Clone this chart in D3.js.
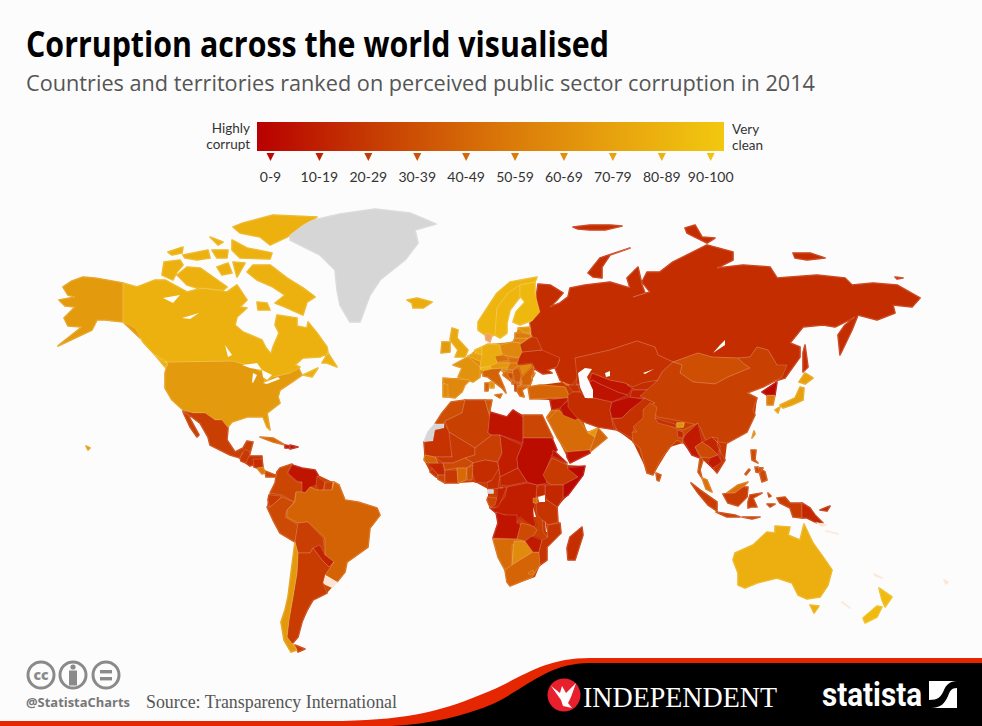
<!DOCTYPE html>
<html>
<head>
<meta charset="utf-8">
<script src="https://cdn.jsdelivr.net/npm/d3@7"></script>
<style>
  html, body { margin: 0; background: #fcfcfc; }
  svg { display: block; }
</style>
</head>
<body>
<div id="chart"></div>
<script>
const legendBands = ["0-9", "10-19", "20-29", "30-39", "40-49", "50-59", "60-69", "70-79", "80-89", "90-100"];
const scoreStops = [0, 19, 27, 36, 43, 50, 60, 74, 80, 92, 100];
const scoreColors = ["#b50000", "#bf1500", "#c42d00", "#c94003", "#d46306", "#d86c08", "#e0870e", "#e39a0c", "#ecaf0f", "#f0bb0f", "#f2c80f"];
const rampStops = [0, 25, 50, 75, 100];
const rampColors = ["#b80000", "#c63c02", "#d87208", "#e6a00e", "#f2c80f"];

// CPI 2014 score per territory, same order as countryShapes (painted in this order)
const countryNames = ["Russia","Greenland","USA","Canada","Mexico","Guatemala","Honduras","Nicaragua","Costa Rica","Panama","Cuba","Haiti","Dominican Rep.","Colombia","Venezuela","Guyana","Suriname","French Guiana","Ecuador","Peru","Brazil","Bolivia","Paraguay","Uruguay","Argentina","Chile",
  "Morocco","W. Sahara","Mauritania","Algeria","Tunisia","Libya","Egypt","Mali","Niger","Chad","Sudan","Eritrea","Ethiopia","Somalia","Kenya","Uganda","Tanzania","DR Congo","Congo","Gabon","Cameroon","CAR","Nigeria","Senegal","Guinea","Sierra Leone","Liberia","Ivory Coast","Burkina Faso","Ghana","Benin","Angola","Namibia","Botswana","South Africa","Zambia","Zimbabwe","Mozambique","Malawi","Rwanda","Madagascar","Lesotho","Eq. Guinea",
  "Saudi Arabia","UAE","Oman","Yemen","Jordan","Iraq","Syria","Turkey","Georgia","Azerbaijan","Iran","Afghanistan","Pakistan","Turkmenistan","Uzbekistan","Kyrgyzstan","Tajikistan","Kazakhstan","Mongolia","China","Taiwan","India","Nepal","Bhutan","Bangladesh","Myanmar","Sri Lanka","Thailand","Laos","Vietnam","Cambodia","Malaysia","Indonesia","PNG","Philippines","South Korea","North Korea","Japan","Australia","New Zealand","Pacific islands",
  "Iceland","UK","Ireland","Norway","Sweden","Finland","Denmark","France","Netherlands","Belgium","Germany","Switzerland","Italy","Spain","Portugal","Austria","Poland","Czech Rep.","Slovakia","Hungary","Slovenia","Croatia","Bosnia","Serbia","Montenegro","Albania","Macedonia","Greece","Bulgaria","Romania","Moldova","Ukraine","Belarus","Lithuania","Latvia","Estonia"];
const countryScores = [27,null,74,81,35,32,29,28,54,37,46,19,19,37,19,30,36,69,33,38,43,35,24,"pale",34,73,
  39,null,30,36,40,18,37,32,35,22,11,18,33,8,25,26,31,22,23,37,27,24,27,43,25,31,37,32,38,48,39,19,49,63,44,38,21,31,33,49,28,49,null,
  49,70,45,19,49,16,20,45,52,29,27,12,29,17,18,27,23,29,39,36,61,38,29,65,25,21,38,38,25,31,21,52,34,25,38,55,8,76,80,91,"pale",
  79,78,74,86,87,89,"tint",69,83,76,79,86,43,60,63,72,61,51,50,54,58,48,39,41,42,33,45,43,43,43,35,26,31,58,55,69];

// land masses painted first so no sea shows between neighbouring outlines
const landFills = ["#c94003", "#cc4a04", "#c83a02", "#ce5d08", "#e08a10"];
const landShapes = [
  [-9.5,49,-2.5,50,11,50,10,44,18.5,41.5,21.5,45,26.5,42.5,36,42.5,41.5,31,41,25,48.5,17.5,57.5,17,56.5,12.5,49,2.5,43.5,-3.5,44,-11,45,-11.5,45.5,-16.5,38.5,-23.5,38.5,-30,35,-32.5,32.5,-38.5,20,-43,18.5,-41,17.5,-35,14,-28.5,11.5,-19.5,14,-11.5,13,-6,9,0,9,5.5,2.5,9,-6,8.5,-12.5,8.5,-16,10.5,-20,14,-23,20,-23,29,-21,34,-17.5,38,-14,43.5],
  [-97,14,-89,18,-76,12.5,-65.5,7.5,-62.5,0,-56,-1,-46.5,-4,-45,-7.5,-50,-14,-51,-23.5,-61.5,-31,-62.5,-36,-66.5,-41,-71.5,-46.5,-78.5,-50,-84,-61,-86,-68.5,-90.5,-65,-91,-48.5,-89.5,-36.5,-87.5,-21,-95,-16.5,-101.5,-3.5,-101,0,-100,3.5,-97,8.5],
  [45,71,52.5,71,115,80,158.5,67.5,156,61.5,146.5,56.5,138.5,53.5,143.5,51,142.5,42.5,138.5,34,128.5,28.5,127.5,20,123.5,13.5,116.5,20,111,22.5,106.5,28.5,100,26.5,91.5,12.5,89,13.5,81.5,29,73.5,35,64,36.5,58.5,38.5,53.5,41,45,46.5,40,50,30,50.5,29,56.5,35,57.5,46.5,59],
  [38.5,41,41,45,50,51.5,56,41.5,58.5,34,64,36,68.5,31,60,24,50,18.5,48.5,21.5,43.5,31.5],
  [-13.5,61,-6,61,-4,66,-8.5,67.5,-1,71.5,2.5,75,9,78,21.5,79,24,86,30,86.5,30,81.5,35,75,45,71,43.5,66.5,38.5,65,32.5,65.5,31.5,61.5,30.5,57.5,26,55,27.5,51.5,25,52,21,59,16.5,62.5,16,65.5,11,65.5,6.5,64.5,5,61.5,0,60,-2.5,57.5,-7.5,51,-13.5,51.5]
];

// outlines on a flat map grid (origin: equator / prime meridian)
// each territory is a list of rings, each ring is x,y,x,y,...
const countryShapes = [
  // Russia
  [[34,108,40,107.5,46.5,103.5,43.5,100,40,96.5,45,98.5,49,101.5,50,106,57.5,107.5,70,109,80,106,78.5,111,84,116.5,86,107.5,87.5,103.5,81.5,101.5,90,104,86,109,88.5,114,95,114,101.5,119,118.5,127.5,131.5,124,131.5,120,123.5,116,136.5,117.5,150,116.5,153.5,111,173.5,112.5,187.5,111,191,107.5,201.5,108.5,213.5,107.5,225,101,221,96.5,211.5,97.5,212.5,93.5,203.5,90,194,92.5,191,85,185,72.5,184,82.5,187.5,87.5,192.5,91.5,182.5,86.5,176.5,87.5,166.5,86.5,160,78.5,165,76.5,165,71.5,157.5,61,152.5,59.5,153.5,67.5,149,75,143.5,76.5,140,71.5,134,71,121,71.5,114,73.5,101.5,69,94,72.5,92.5,76.5,83.5,79.5,70,75,52.5,71,53.5,66.5,55,65,54,61.5,50,56.5,45,60,42.5,66,45,70,35,75,33.5,78.5,31,81.5,30,88.5,31.5,90],
   [59,113.5,65,121,80,126,70,122.5,66,116.5,66,111,61.5,111.5],
   [107.5,136,112.5,137.5,116,131.5,122.5,131,118.5,128.5,108.5,133.5],
   [161.5,123.5,170,123.5,177.5,121,168.5,120,162.5,121],
   [167.5,77.5,169,66.5,166.5,64,166.5,73.5],
   [212.5,111.5,216.5,111,213.5,110.5],
   [51.5,136.5,60,137.5,70,137.5,76,137,67.5,135,60,135,54,135.5]],
  // Greenland
  [[-90,134,-82.5,139,-65,143,-47.5,145.5,-30,143.5,-17,138,-27.5,135,-26,128.5,-32.5,120,-37.5,116,-45,110,-50,102.5,-55,89,-60,89,-65,97.5,-66.5,105,-67.5,115,-75,122.5,-85,127.5,-90,130]],
  // USA (lower 48, Alaska, Hawaii)
  [[-151,69,-118.5,69.5,-111.5,67.5,-101.5,63.5,-98.5,61.5,-90,63.5,-86,66.5,-84,62.5,-89,59,-95,55,-96,51.5,-95,48.5,-101.5,43.5,-100,35,-101.5,36.5,-103.5,41.5,-111.5,41.5,-119,39,-121,36.5,-125,40,-127.5,40,-132.5,43.5,-138.5,43.5,-143.5,45,-149,50,-152.5,56,-152.5,63.5],
   [-173.5,108.5,-179,109.5,-187.5,111,-193.5,111.5,-199,109.5,-203.5,106.5,-201,102.5,-197.5,101.5,-205.5,100,-202.5,97,-197.5,96.5,-203,91,-201,87,-194,86.5,-206,77,-197.5,81,-189,85,-186.5,90,-182.5,90,-173.5,89,-167.5,87.5,-160,80,-165,81,-173.5,89],
   [-192,27,-190,26,-191,25]],
  // Canada
  [[-173.5,108.5,-166.5,106.5,-157.5,110,-152.5,110,-141.5,104,-133.5,106,-121.5,104,-116.5,107.5,-111.5,100,-115,96.5,-111.5,96,-116.5,91.5,-117.5,87.5,-113.5,84,-104,80,-102,76,-99.5,73,-98.5,76.5,-95.5,83.5,-97.5,87.5,-96.5,92.5,-86.5,91,-86.5,87,-81.5,86,-81,89,-76.5,83.5,-71.5,76.5,-71,73.5,-75,71.5,-83.5,71,-87.5,67.5,-85,66.5,-86.5,65,-90,63.5,-98.5,61.5,-102.5,58.5,-104,64,-111.5,67.5,-118.5,69.5,-151,69,-157.5,72.5,-163.5,79,-167.5,86,-173.5,89],
   [-154,112.5,-153,119,-145,120,-143.5,117.5,-146.5,114,-148.5,110],
   [-146.5,112.5,-141.5,116.5,-135,116,-130,112.5,-126.5,110,-121.5,106.5,-123.5,105,-136.5,106,-141.5,107.5],
   [-111.5,114,-108.5,117.5,-100,117.5,-91.5,111,-83.5,106,-77.5,101.5,-81.5,99,-83.5,92.5,-92.5,96.5,-97.5,98.5,-92.5,102.5,-98.5,106.5,-106.5,110],
   [-106.5,99,-101.5,98.5,-100,95,-106,95],
   [-113.5,138.5,-98.5,142.5,-76.5,141.5,-83.5,137.5,-91.5,131.5,-100,127.5,-105,131.5,-115,133.5,-118.5,136.5],
   [-119,130,-111.5,126,-99,123.5,-100,120.5,-115,121,-119,125],
   [-151,124,-143.5,126.5,-144,123.5,-149,122.5],
   [-143.5,122.5,-131,125,-130,121,-136.5,120,-142.5,121],
   [-130,131.5,-123.5,129,-126,127.5],
   [-129,125,-121,125,-121.5,121,-126.5,121],
   [-126.5,116.5,-121,118.5,-119,113.5,-124,112.5],
   [-118.5,119,-112.5,118.5,-116.5,111.5],
   [-74,68.5,-71,73.5,-66.5,66.5,-71.5,68.5],
   [-83.5,62.5,-76,66,-79,61.5],
   [-157.5,72.5,-151,67.5,-152.5,66.5]],
  // Mexico
  [[-143.5,44.5,-138.5,43.5,-132.5,43.5,-127.5,40,-124,40,-121,36,-121.5,30,-117.5,24,-113.5,26,-111.5,29.5,-108.5,29,-110,23.5,-114,23.5,-115,21,-120,22.5,-130,27.5,-131,31.5,-135,38.5,-139,41.5],
   [-143.5,44,-141,42.5,-135.5,32.5,-136.5,31.5,-140,36.5]],
  [[-115,21,-112.5,25.5,-110,24,-110.5,21,-112,18.5,-114.5,19.5]],
  [[-112,18.5,-110.5,22,-104,22,-104,20.5,-107,18,-110,17]],
  [[-108.5,20.5,-104,20.5,-103.5,16.5,-106.5,16,-108,16.5]],
  [[-106.5,16,-103.5,16.5,-102.5,13.5,-104,13]],
  [[-102.5,14.5,-97.5,12.5,-95,13.5,-97,11.5,-102,11.5]],
  [[-105,31.5,-98.5,31,-92.5,27.5,-98.5,29]],
  [[-92.5,27.5,-90,27,-90,26,-92.5,26]],
  [[-90,27.5,-86,26.5,-90,25.5]],
  // Colombia .. Chile
  [[-96.5,14,-95,16,-89,18,-91.5,13.5,-86.5,9,-84,9,-83.5,4,-87,4,-88,-1,-94,2.5,-100,3.5,-97.5,8.5]],
  [[-91,13.5,-89,17.5,-84,16,-77.5,15,-76,12.5,-76.5,7.5,-80,6.5,-82.5,3.5,-84,4,-84,9,-86.5,9.5]],
  [[-76.5,12,-72.5,9,-73.5,5,-76,5,-77,7.5]],
  [[-72.5,9,-68.5,9,-69,5,-73,5]],
  [[-68.5,9,-65.5,7.5,-67.5,5,-69,5]],
  [[-101,0,-100.5,2.5,-94,2,-97.5,-1.5,-100,-3.5]],
  [[-101.5,-3.5,-100,-3.5,-94,1.5,-88,-1,-91.5,-5,-92.5,-8.5,-86,-12.5,-87.5,-21,-95,-16.5,-98.5,-10]],
  [[-68,9,-65.5,7.5,-62.5,0,-56,-1,-46.5,-4,-45,-7.5,-50,-14,-51,-23.5,-61.5,-31,-62.5,-36,-66.5,-41,-72.5,-37.5,-68,-31,-72.5,-27.5,-72.5,-19,-81,-11,-86,-11.5,-91.5,-8.5,-91.5,-5,-87.5,-1,-87,4,-83.5,4,-82.5,3.5,-80,6.5,-77,5,-69,5]],
  [[-86,-11.5,-81,-11,-73.5,-19,-72.5,-27.5,-78.5,-24,-80,-26.5,-86,-26.5,-87.5,-21]],
  [[-78.5,-24,-75,-22.5,-72.5,-27.5,-68,-31,-70.5,-33.5,-74,-30]],
  [[-72.5,-37.5,-66.5,-41,-69,-43.5,-73.5,-41.5]],
  [[-86,-26.5,-80,-26.5,-78.5,-24,-74,-30,-70.5,-33.5,-68,-31,-72.5,-37.5,-73.5,-41.5,-71.5,-46.5,-78.5,-50,-81.5,-55,-84,-61,-86,-68.5,-89,-72,-91.5,-68.5,-90.5,-60,-88.5,-48.5,-86.5,-36.5],
   [-87.5,-72.5,-82.5,-74.5,-86,-76]],
  [[-87.5,-21,-86,-26.5,-86.5,-36.5,-88.5,-48.5,-90.5,-60,-91.5,-68.5,-86.5,-75,-89.5,-76,-93,-70,-94.5,-61,-92.5,-55,-91,-48.5,-89.5,-36.5]],
  // Africa
  [[-9.5,49,-2.5,50,-4,43.5,-12.5,39.5,-13.5,38,-17.5,38,-14,43.5]],
  [[-17.5,38,-13,38,-13,36,-17.5,35,-18.5,29.5,-23,29,-21,34]],
  [[-13,38,-10,34,-9,21.5,-17.5,21.5,-22.5,22.5,-23,29,-18.5,29.5,-17.5,35,-13,36]],
  [[-4,43.5,-2.5,50,7.5,50,10,41.5,9,33.5,11,32.5,2.5,26,-10.5,34,-12.5,39.5]],
  [[7.5,50,11,50,10,45,10,41.5]],
  [[10,44,18.5,41.5,21.5,45,26.5,41.5,26.5,28.5,15,32.5,11,32.5,9,33.5]],
  [[26.5,42.5,36,42.5,41.5,31,26.5,31]],
  [[-10.5,34,2.5,26,2.5,22.5,-2.5,21,-8.5,18.5,-13.5,18.5,-17.5,21.5,-9,21.5]],
  [[2.5,26,11,32.5,15,32.5,16,23.5,13.5,19,7.5,20,1.5,18.5,-2.5,21,2.5,22.5]],
  [[15,32.5,26,27.5,23.5,21,24,16,15,11.5,14,18.5,16,23.5]],
  [[26.5,31,41,31,43.5,25,41,22.5,37.5,14,38.5,8.5,33.5,7.5,28.5,9,24,16,23.5,21,26.5,28.5]],
  [[41.5,25,48.5,18.5,43.5,21,41,22]],
  [[41,21,48.5,17.5,49,16,54,11.5,46.5,7.5,41,7.5,38.5,9,36.5,12.5]],
  [[48.5,16,57.5,17,56.5,12.5,49,2.5,46.5,1,46.5,7.5,54,11.5]],
  [[37.5,7.5,41,7.5,46.5,7.5,46.5,1,43.5,-3.5,38.5,0,37.5,2.5]],
  [[34,7.5,37.5,7.5,37.5,2.5,33,1.5,33,5]],
  [[33,-1.5,38.5,0,43.5,-3.5,44,-11,39,-12.5,33.5,-7.5]],
  [[18.5,6.5,28.5,8.5,33.5,7.5,33,1.5,31.5,-7.5,33,-12.5,31.5,-13.5,25,-8.5,23.5,-11.5,17.5,-7.5,13,-6.5,10,-4,12.5,-4,17.5,1.5]],
  [[18.5,6.5,16.5,1.5,14,-3.5,10,-3.5,11.5,0,13.5,1.5,13.5,6]],
  [[9,1.5,13.5,1,12.5,-2.5,10,-3.5,8.5,0]],
  [[14,17.5,15,11.5,14,6.5,16.5,6,9,5.5,8.5,8.5,11,10,7.5,13,11,18]],
  [[15,11.5,24,16,28.5,9,18.5,7,15,7.5]],
  [[1.5,18.5,7.5,20,13.5,19,14.5,16,11,10,7.5,8.5,2.5,9,1,14]],
  [[-22.5,22.5,-17.5,21.5,-16,18.5,-21.5,18.5,-23,20]],
  [[-21.5,18,-13.5,18.5,-12.5,12.5,-16,12.5,-19,16]],
  [[-19,16,-16,12.5,-17,11.5,-20,14]],
  [[-16,12.5,-12.5,12.5,-12.5,8.5,-16,10.5]],
  [[-12.5,15,-6.5,15,-6,8.5,-12.5,8.5]],
  [[-13.5,18.5,-8.5,18.5,-2.5,21,1.5,18.5,-1.5,16,-6.5,16,-12.5,15]],
  [[-6.5,16,-1.5,16,-2,10,-6,8.5]],
  [[-1.5,16,1.5,17.5,1,10,-1.5,10]],
  [[13,-6,17.5,-7.5,23.5,-7.5,23.5,-11.5,25.5,-12.5,23.5,-19.5,11.5,-19,14,-11.5]],
  [[11.5,-19.5,23.5,-19.5,26.5,-20.5,21,-22.5,21,-32.5,17.5,-35,14,-28.5]],
  [[22,-20.5,27.5,-20.5,31.5,-26,25,-30,21,-32.5]],
  [[17.5,-35,21,-32.5,25,-30,31.5,-26,34.5,-26,35.5,-31.5,31,-38.5,20,-43,18.5,-41]],
  [[25.5,-11.5,31.5,-13,33.5,-15,31,-19,27.5,-20.5,23.5,-19.5]],
  [[27.5,-20.5,31,-18,36,-20,34.5,-26,31.5,-26]],
  [[39,-12.5,45,-11.5,45.5,-16.5,38.5,-23.5,38.5,-30,35,-32.5,34.5,-26,36,-20,39,-18.5,37.5,-14]],
  [[36,-10,39,-12.5,38.5,-18.5,36.5,-16]],
  [[31.5,1,33.5,1,33.5,-1.5,31.5,-1.5]],
  [[56,-13.5,56.5,-17.5,52.5,-30,49,-30,48.5,-24,50,-18.5]],
  [[29,-36.5,31.5,-35,32,-36.5,30,-37.5]],
  [[9,5,11.5,5,11.5,3.5,9,3.5]],
  // Middle East and Asia
  [[38.5,41,43.5,45,50,41.5,54,41,58.5,34,62.5,31.5,60,25,48.5,24,43.5,31.5]],
  [[59,33.5,64,36,62.5,31.5]],
  [[64,36,68.5,31,60,24,60,25,62.5,31.5]],
  [[48.5,24,60,25,60,23.5,50,18.5,48.5,21.5]],
  [[38.5,41.5,41,45,43.5,45,39,40]],
  [[45,46.5,51.5,51.5,56,41.5,52.5,40,46.5,42.5]],
  [[40,50,50,51.5,45,46,41,45]],
  [[29,56.5,35,57.5,47.5,56.5,50,51,40,51,30,50.5]],
  [[46.5,59,52.5,56.5,48.5,57.5]],
  [[49,57.5,54,57.5,55,54,51.5,54]],
  [[49,52.5,51.5,54,55,54,58.5,51,62.5,51,71,49,70,45,71.5,36.5,73.5,35,64,36.5,58.5,38.5,53.5,41,49,46.5]],
  [[71,49,80,51.5,83.5,51,88.5,50,80,45,76,41,71,41,70,45]],
  [[71,40.5,76,41,80,45,87.5,51,92.5,48.5,86.5,45,91,40,81.5,35,84,29,80,31.5,73.5,35]],
  [[53,58,56.5,57.5,61.5,60,64,58.5,74,54,79,52.5,71,49,62.5,51,58.5,51,61,54]],
  [[61,63.5,70,60,77.5,58.5,81.5,56.5,79,52.5,74,54,64,58.5,61.5,60,56.5,57.5]],
  [[78.5,57.5,85,59,94,60,89,55,82.5,55]],
  [[80,51.5,81,55,89,55,90,51,83.5,51]],
  [[52.5,71,70,75,83.5,79.5,92.5,76.5,94,72.5,101.5,69,96,64,94,60,86,58.5,81.5,56.5,77.5,58.5,70,60,61,63.5,59,57.5,53,58,53.5,62]],
  [[101.5,69,114,73.5,121,71.5,134,71,136.5,68.5,140,66,129,61.5,122.5,58,111.5,59,105,63.5,106,67.5]],
  [[101.5,69,106,67.5,105,63.5,111.5,59,122.5,58,129,61.5,140,66,136.5,68.5,134,71,140,71.5,143.5,76.5,149,75,153.5,67.5,158.5,67.5,156,61.5,146.5,56.5,138.5,53.5,143.5,51,141.5,45,142.5,42.5,138.5,34,128.5,28.5,121,29.5,118,29.5,115,36.5,112,38,102.5,40,93.5,41.5,90,47.5,92.5,48.5,85,52,94,60,96,64]],
  [[141,31,142,34.5,142.5,33]],
  [[86.5,45,90,48.5,93.5,46.5,92.5,41,102.5,36,106.5,35,114,38.5,111,35,106.5,31.5,106.5,28.5,103.5,30,100,26.5,95,20,91.5,12.5,88.5,13.5,85,26,81.5,29,81,34,83.5,34,81.5,36.5,86.5,41]],
  [[92.5,41,102.5,38,103.5,36,94,38.5]],
  [[103.5,38.5,107,38.5,106.5,36.5,103.5,36.5]],
  [[103.5,35,106.5,34,106.5,31,104,31.5]],
  [[106.5,30,107.5,32.5,114,38.5,116,29,112.5,26.5,115,21,111,22.5]],
  [[93,13.5,95.5,12.5,94.5,9.5,93.5,10]],
  [[112.5,26.5,116,29,120,26.5,124,22.5,120,21,116,21.5,115,21,114,14,116,11,115,15,116.5,20]],
  [[116,29,121,31.5,125,27.5,124,22.5,120,26.5]],
  [[121,31.5,124,31,123.5,27.5,127.5,20,123.5,13.5,121.5,16,125,19,125,27.5]],
  [[120,21,124,22.5,126,19,121.5,16,119,18.5]],
  [[116,11,118.5,10,121,4,118,5.5],[128.5,3.5,134,7.5,139,9,136.5,6.5,132.5,3.5]],
  [[110.5,8.5,115,5,123.5,-1,123.5,-5.5,119,-2.5,114,3.5],[123,-6,132.5,-7.5,135,-8.5,128.5,-8.5],[136,-8.5,145,-8.5,141,-9.5],[126.5,3,132.5,3.5,136.5,6.5,139,6.5,138.5,1.5,134,-3,129,-1.5],[140,2.5,146,3.5,141.5,1,143.5,-3.5,140.5,-3.5,139,-4,139,-1],[149,3.5,150.5,2,149.5,1.5],[148.5,-2,152.5,-2,150,-3.5],[153.5,1,157.5,1.5,160,-1.5,166,-1.5,166,-9,161.5,-8.5,160,-4,155,-1.5]],
  [[166,-1.5,170,-4,172.5,-7.5,176.5,-11.5,173.5,-11.5,168.5,-9,166,-9],[175,-5,180,-3,178.5,-5.5]],
  [[140.5,25,143,25,142.5,20,144,18.5,141,20],[144,16.5,147.5,14,148.5,10,146,9],[142.5,16.5,146.5,16,145,13.5,143,14],[137.5,13,139.5,15.5,140,15,138,12.5]],
  [[148.5,52.5,152.5,52.5,151.5,47.5,148.5,47.5]],
  [[146,54,153.5,59,152.5,52.5,148.5,52.5]],
  [[155,47.5,162.5,51,165,56.5,167,56,166.5,50,161,47.5,156.5,46],[152.5,45,155,46.5,154,43.5],[164.5,59,167.5,63.5,171.5,61,167.5,58]],
  [[132.5,-26.5,141.5,-22.5,148.5,-16,152.5,-16.5,152.5,-13,160,-13.5,159,-17.5,165,-20,167,-12,171.5,-21.5,176.5,-28.5,181,-35,179,-42.5,175,-48.5,168.5,-49.5,164,-47.5,161,-41.5,153.5,-39,143.5,-41.5,137.5,-44,134,-42.5,134,-36.5,131.5,-30],[170,-52.5,174.5,-53,172,-56.5]],
  [[204.5,-44,211,-48.5,207.5,-53.5,206,-50],[203.5,-53,206,-53.5,203.5,-58.5,197.5,-61.5,196.5,-59]],
  [[173,-11,178,-12.5,176,-13],[178,-15.5,184,-17,180,-16],[186,-51,190,-54,188,-52.5],[202,-37,206,-39,203,-38],[237,-40,239,-41,238,-42]],
  // Europe
  [[-31.5,100,-26.5,101,-19,99,-23.5,96,-28.5,96,-29,98.5]],
  [[-9,86,-6,85,-6.5,81,-1,75,-2.5,71.5,-7.5,71.5,-6,75,-10,80],[-14,79,-11,79,-11.5,77,-14,76.5]],
  [[-14,79,-10,79,-10,74,-14.5,73.5]],
  [[4,89,13.5,103.5,20,109,33.5,111.5,32.5,109,25,107.5,19,103.5,13.5,96,12.5,82.5,9,81.5,4,85]],
  [[12.5,82.5,13.5,96,19,103.5,25,107.5,25,101.5,20,95,18.5,88.5,18.5,83.5,15,81]],
  [[25,107.5,32.5,109,32.5,103.5,35,94,31.5,90,25,87.5,21.5,89,23,94,27.5,99,25,102]],
  [[7.5,83.5,11,82.5,10,79,8,80]],
  [[-8.5,67.5,-1,71.5,5,66.5,5,61.5,1.5,59,-1.5,60,-6,61.5,-4,66],[10,59,12,59,12,56,10,56]],
  [[2.5,75,6,76.5,6,72.5,2.5,73.5]],
  [[-1,72,2.5,73.5,6,72.5,6,69]],
  [[6,76.5,9,78,15,77.5,16,71,13.5,71.5,13.5,67.5,5,66,6,72.5]],
  [[5,66,10,67,11,65.5,6.5,64.5]],
  [[6.5,64.5,11,65.5,16,66,14,63.5,17,56.5,18,53.5,16,56,9,61.5,6.5,62],[12.5,52.5,16,53,15,51],[7.5,58.5,9.5,58.5,9,54.5,7.5,54.5]],
  [[-13.5,61,0,60,-2.5,57.5,-4,54,-7.5,51,-11,51.5,-11.5,57.5,-13.5,58.5]],
  [[-13.5,58.5,-11,57.5,-11,51.5,-13.5,51.5]],
  [[10,67,13.5,68.5,20,68.5,19,66,16,66,11,65.5]],
  [[15,77.5,21.5,79,25,78.5,26,74,25,71,16.5,72.5,15.5,75]],
  [[12.5,72,16.5,72.5,20,70,13.5,69]],
  [[19,71,25,71,23.5,68.5,20,68.5]],
  [[20,68.5,23.5,68.5,24.5,67.5,21.5,65,18.5,65.5]],
  [[16,65.5,18.5,65.5,17.5,64,16,64.5]],
  [[17.5,64,21.5,65,21.5,63.5,18.5,63.5,21,59,16.5,62.5]],
  [[18.5,63.5,21.5,63.5,21.5,61,20,60.5]],
  [[21.5,65,24.5,66,25.5,62.5,25,59,22.5,59,21.5,63]],
  [[21,60,22.5,59,22,58,21,58]],
  [[22.5,58.5,23.5,58.5,23.5,54.5,22.5,54.5]],
  [[23.5,58.5,26,58.5,26,57.5,23.5,57]],
  [[23.5,56.5,26,56.5,30,57.5,26,55,27,51.5,25,52,23.5,54.5]],
  [[25,59,31,60,30.5,61.5,32.5,63.5,31.5,61.5,26,61,25,57,25,59]],
  [[25,60.5,32,67.5,31.5,63.5,30.5,61.5,31,60,30,57.5,26,57.5,26,60]],
  [[31,68,32.5,68,32.5,65.5]],
  [[26,74,36,75,45,71,43.5,66.5,38.5,65,41,63.5,36.5,63,32.5,65.5,31,68.5,23.5,67.5,24.5,71]],
  [[26,78.5,31,81.5,33.5,81,36,75,26,74,25,77.5]],
  [[22.5,81,29,81,26,78.5,21.5,79]],
  [[22.5,83.5,27.5,83.5,31,82,29,81,22.5,81]],
  [[24,86,30,86.5,30,83.5,27.5,83.5]]
];

// tints the map uses for territories outside the colour ramp
const paleTint = "#fbe4d3";
const denmarkTint = "#f0a060";
const noDataGrey = "#d6d6d6";

// water drawn over the land: Great Lakes, Canadian lakes, Caspian, Aral, Balkhash, Baikal, African lakes
const lakeShapes = [
  [-114,67.5,-106.5,68.5,-104,65,-110,66],
  [-108.5,63.5,-106.5,62.5,-108.5,58.5,-109,59],
  [-104,65,-99,62.5,-101.5,60,-103.5,61.5],
  [-103.5,58.5,-96,61.5,-95,60.5,-101.5,58],
  [-153.5,101,-145,102.5,-148.5,98.5],
  [-144,91,-135.5,93.5,-140,90.5],
  [-122.5,77.5,-119,72.5,-121,71.5],
  [54,63.5,57.5,66,61,65.5,58.5,61.5,61.5,55,61.5,51,57.5,51,55,56.5],
  [67.5,63.5,70,64.5,70,62,68,61.5],
  [86.5,63.5,92,65.5,87.5,63],
  [127.5,80,127.5,77.5,121.5,73.5,125,77.5],
  [34,1.5,37.5,2.5,37.5,-1,34.5,-1],
  [31.5,-3.5,33,-8.5,32,-8.5],
  [37.5,-10,38.5,-16,38,-16]
];

const W = 982, H = 726;
const svg = d3.select("#chart").append("svg").attr("width", W).attr("height", H);
svg.append("rect").attr("width", W).attr("height", H).attr("fill", "#fcfcfc");

// map grid -> page
const gridX = d3.scaleLinear().domain([-235, 256]).range([0, W]);
const gridY = d3.scaleLinear().domain([250, -113]).range([0, H]);
const flat = d3.geoTransform({
  point(x, y) { this.stream.point(gridX(x), gridY(y)); }
});
const path = d3.geoPath(flat);

const colorOf = d3.scaleLinear().domain(scoreStops).range(scoreColors).clamp(true);
const rampOf = d3.scaleLinear().domain(rampStops).range(rampColors);
function fillOf(score) {
  if (score === null) return noDataGrey;
  if (score === "pale") return paleTint;
  if (score === "tint") return denmarkTint;
  return colorOf(score);
}

function ringOf(list) {
  const ring = d3.range(0, list.length, 2).map(i => [list[i], list[i + 1]]);
  ring.push(ring[0]);
  return ring;
}

const features = countryShapes.map((rings, i) => ({
  type: "Feature",
  properties: { name: countryNames[i], score: countryScores[i] },
  geometry: { type: "MultiPolygon", coordinates: rings.map(r => [ringOf(r)]) }
}));

const mapG = svg.append("g");

mapG.selectAll("path.land").data(landShapes).join("path")
  .attr("class", "land")
  .attr("d", d => path({ type: "Polygon", coordinates: [ringOf(d)] }))
  .attr("fill", (d, i) => landFills[i]);

// own-colour halo closes the hairline seams between neighbours
mapG.selectAll("path.halo").data(features).join("path")
  .attr("class", "halo")
  .attr("d", path)
  .attr("fill", "none")
  .attr("stroke", d => fillOf(d.properties.score)).attr("stroke-width", 1.6).attr("stroke-linejoin", "round");

mapG.selectAll("path.country").data(features).join("path")
  .attr("class", "country")
  .attr("d", path)
  .attr("fill", d => fillOf(d.properties.score))
  .attr("stroke", "#ffffff").attr("stroke-opacity", 0.24).attr("stroke-width", 0.7);

mapG.selectAll("path.lake").data(lakeShapes).join("path")
  .attr("class", "lake")
  .attr("d", d => path({ type: "Polygon", coordinates: [ringOf(d)] }))
  .attr("fill", "#fcfcfc");

// ── Title ──
svg.append("text").attr("x", 26).attr("y", 57)
  .attr("textLength", 583).attr("lengthAdjust", "spacingAndGlyphs")
  .style("font-family", "'Open Sans', sans-serif").style("font-size", "36px").style("font-weight", 700)
  .style("fill", "#000").text("Corruption across the world visualised");
svg.append("text").attr("x", 26).attr("y", 91)
  .attr("textLength", 789).attr("lengthAdjust", "spacingAndGlyphs")
  .style("font-family", "'Open Sans', sans-serif").style("font-size", "22px")
  .style("fill", "#555").text("Countries and territories ranked on perceived public sector corruption in 2014");

// ── Legend ──
const defs = svg.append("defs");
const grad = defs.append("linearGradient").attr("id", "ramp");
rampStops.forEach(s => {
  grad.append("stop").attr("offset", s + "%").attr("stop-color", rampOf(s));
});
svg.append("rect").attr("x", 257).attr("y", 122).attr("width", 467).attr("height", 29)
  .attr("fill", "url(#ramp)");

const legendX = d3.scalePoint().domain(legendBands).range([270.5, 710.7]);
const legendMid = d3.scaleLinear().domain([0, 9]).range([3, 97]);
const legendG = svg.append("g");
legendBands.forEach((band, i) => {
  const x = legendX(band);
  legendG.append("path")
    .attr("d", `M${x - 4},153 L${x + 4},153 L${x},161 Z`)
    .attr("fill", rampOf(legendMid(i)));
  legendG.append("text").attr("x", x).attr("y", 182)
    .attr("text-anchor", "middle")
    .style("font-family", "Lato, sans-serif").style("font-size", "14px").style("fill", "#333")
    .text(band);
});
// two-line end labels
[[["Highly", "corrupt"], 250, 133, "end"], [["Very", "clean"], 732, 134, "start"]]
  .forEach(([lines, x, y, a]) => {
    const t = svg.append("text").attr("x", x).attr("y", y).attr("text-anchor", a)
      .style("font-family", "Lato, sans-serif").style("font-size", "13.5px").style("fill", "#333");
    lines.forEach((line, i) => t.append("tspan").attr("x", x).attr("dy", i ? 16 : 0).text(line));
  });

// ── Footer swoosh ──
svg.append("path")
  .attr("d", "M982,658 L590,658 C540,658 520,680 480,695 C440,712 400,721 330,721 L0,721 L0,726 L982,726 Z")
  .attr("fill", "#e62600");
svg.append("path")
  .attr("d", "M982,663 L590,663 C550,663 530,685 495,703 C465,716 430,724 392,726 L982,726 Z")
  .attr("fill", "#000");

// creative commons badges
const badgeG = svg.append("g").attr("fill", "none").attr("stroke", "#8a8a8a").attr("stroke-width", 3);
[41, 73, 106].forEach(x => badgeG.append("circle").attr("cx", x).attr("cy", 675).attr("r", 13));
svg.append("text").attr("x", 41).attr("y", 680).attr("text-anchor", "middle")
  .style("font-family", "'Open Sans', sans-serif").style("font-size", "14px").style("font-weight", 800)
  .style("fill", "#8a8a8a").text("cc");
svg.append("circle").attr("cx", 73).attr("cy", 667).attr("r", 2.6).attr("fill", "#8a8a8a");
svg.append("rect").attr("x", 69).attr("y", 670.5).attr("width", 8).attr("height", 15).attr("fill", "#8a8a8a");
svg.append("rect").attr("x", 100).attr("y", 670).attr("width", 12).attr("height", 3.4).attr("fill", "#8a8a8a");
svg.append("rect").attr("x", 100).attr("y", 677).attr("width", 12).attr("height", 3.4).attr("fill", "#8a8a8a");

svg.append("text").attr("x", 26).attr("y", 707)
  .attr("textLength", 104).attr("lengthAdjust", "spacingAndGlyphs")
  .style("font-family", "'Open Sans', sans-serif").style("font-size", "13px").style("font-weight", 700)
  .style("fill", "#777").text("@StatistaCharts");
svg.append("text").attr("x", 146).attr("y", 708)
  .attr("textLength", 251).attr("lengthAdjust", "spacingAndGlyphs")
  .style("font-family", "'Liberation Serif', serif").style("font-size", "19px")
  .style("fill", "#555").text("Source: Transparency International");

// Independent logo
svg.append("circle").attr("cx", 564).attr("cy", 695).attr("r", 16.5).attr("fill", "#e8202e");
svg.append("path")
  .attr("d", "M551,686 L560,693 L562,686 L566,693 L576,683 L571,697 L568,703 L572,708 L563,706 L561,700 Z")
  .attr("fill", "#fff");
svg.append("text").attr("x", 583).attr("y", 707)
  .attr("textLength", 194).attr("lengthAdjust", "spacingAndGlyphs")
  .style("font-family", "'Liberation Serif', serif").style("font-size", "30px")
  .style("fill", "#fff").text("INDEPENDENT");

// Statista logo
svg.append("text").attr("x", 822).attr("y", 706)
  .attr("textLength", 100).attr("lengthAdjust", "spacingAndGlyphs")
  .style("font-family", "Roboto, sans-serif").style("font-size", "34px").style("font-weight", 700)
  .style("fill", "#fff").text("statista");
svg.append("rect").attr("x", 929).attr("y", 681).attr("width", 28).attr("height", 27).attr("fill", "#fff");
svg.append("path")
  .attr("d", "M929,700 C938,700 941,697 944,690 C946,685 950,681 957,681 L957,688 C951,688 950,691 948,696 C945,703 941,708 931,708 L929,708 Z")
  .attr("fill", "#000");
</script>
</body>
</html>
